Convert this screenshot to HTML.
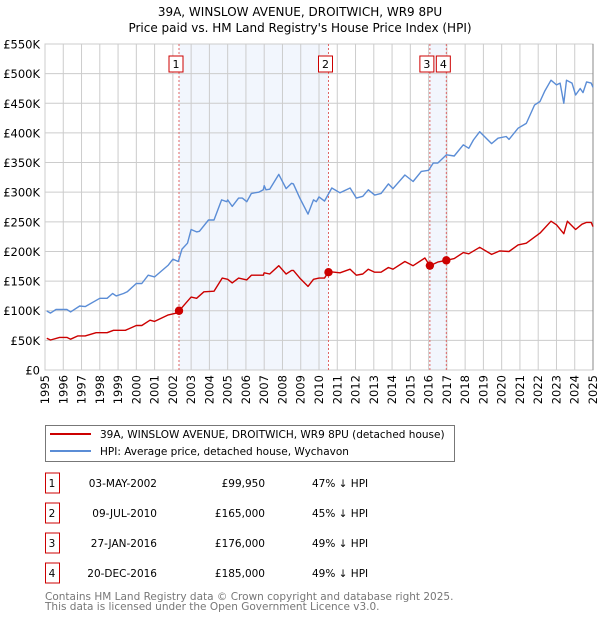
<!DOCTYPE html>
<html><head><meta charset="utf-8"><style>
body{margin:0;background:#fff;font-family:"DejaVu Sans","Liberation Sans",sans-serif;}
svg text{font-family:"DejaVu Sans","Liberation Sans",sans-serif;}
</style></head><body>
<svg id="c" width="600" height="620" xmlns="http://www.w3.org/2000/svg">
<text x="300" y="16" text-anchor="middle" font-size="12">39A, WINSLOW AVENUE, DROITWICH, WR9 8PU</text>
<text x="300" y="32" text-anchor="middle" font-size="12">Price paid vs. HM Land Registry's House Price Index (HPI)</text>
<g id="plot"></g>
<g>
<rect x="45.5" y="425.5" width="409" height="36" fill="#fff" stroke="#777"/>
<line x1="50" y1="434" x2="91" y2="434" stroke="#cc0000" stroke-width="2"/>
<text x="100" y="438" font-size="10.5">39A, WINSLOW AVENUE, DROITWICH, WR9 8PU (detached house)</text>
<line x1="50" y1="451" x2="91" y2="451" stroke="#5b8dd6" stroke-width="2"/>
<text x="100" y="455" font-size="10.5">HPI: Average price, detached house, Wychavon</text>
</g>
<g id="table"></g>
<text x="45" y="600" font-size="10.5" fill="#777">Contains HM Land Registry data © Crown copyright and database right 2025.</text>
<text x="45" y="610" font-size="10.5" fill="#777">This data is licensed under the Open Government Licence v3.0.</text>
</svg>
<script>
const hpiYears=[1995.1,1995.3,1995.6,1996.2,1996.4,1996.9,1997.2,1998.0,1998.4,1998.7,1998.9,1999.3,1999.5,2000.0,2000.3,2000.65,2001.0,2001.75,2002.0,2002.3,2002.5,2002.8,2003.0,2003.3,2003.45,2003.95,2004.25,2004.67,2004.95,2005.0,2005.25,2005.6,2005.8,2006.05,2006.3,2006.7,2006.95,2007.0,2007.1,2007.3,2007.8,2008.2,2008.5,2008.6,2008.95,2009.4,2009.7,2009.85,2010.0,2010.3,2010.7,2011.15,2011.7,2012.05,2012.4,2012.7,2013.05,2013.4,2013.8,2014.05,2014.7,2015.15,2015.6,2016.0,2016.25,2016.5,2016.98,2017.4,2017.9,2018.2,2018.45,2018.8,2019.45,2019.8,2020.25,2020.4,2020.9,2021.35,2021.8,2022.1,2022.35,2022.7,2023.0,2023.2,2023.4,2023.55,2023.85,2024.05,2024.3,2024.45,2024.65,2024.9,2025.0];
const hpiValues=[99.5,96,102,102,98,108,107,121,121,129,125,129,132,146,146,160,157,177,187,183,204,214,237,233,234,253,253,287,284,287,276,290,290,284,298,300,304,311,304,305,330,306,315,314,290,263,287,284,292,285,307,299,307,290,293,304,295,298,314,306,329,318,335,337,349,349,363,361,380,374,388,402,382,391,394,389,408,416,447,453,470,489,481,484,450,489,484,464,475,468,486,484,477];
const priceYears=[1995.1,1995.3,1995.8,1996.2,1996.4,1996.8,1997.2,1997.8,1998.4,1998.75,1999.4,2000.0,2000.3,2000.75,2001.0,2001.75,2002.2,2002.35,2002.6,2003.0,2003.3,2003.7,2004.25,2004.7,2005.0,2005.25,2005.6,2006.05,2006.3,2006.95,2007.0,2007.3,2007.8,2008.2,2008.5,2008.6,2008.95,2009.4,2009.7,2010.0,2010.3,2010.52,2011.15,2011.7,2012.05,2012.4,2012.7,2013.05,2013.4,2013.8,2014.05,2014.7,2015.15,2015.8,2016.07,2016.5,2016.97,2017.4,2017.9,2018.2,2018.8,2019.45,2019.9,2020.4,2020.9,2021.35,2022.1,2022.7,2023.0,2023.4,2023.6,2024.05,2024.4,2024.65,2024.9,2025.0];
const priceValues=[53.4,50.6,55,55,52,57.5,57.5,63,63,67,67,75,75,84,82,93,96,100,109,123,121,132,133,155,153,147,155,152,160,160,164,162,176,162,168,168,155,141,153,155,155,166,164,170,160,162,170,165,165,173,170,183,176,189,176,182,185,188,198,196,207,195,201,200,211,214,231,251,245,230,251,237,246,249,249,242];
const saleLabels=["1","2","3","4"];
const saleYears=[2002.336,2010.52,2016.07,2016.97];
const saleValues=[99.95,165,176,185];
const saleDates=["03-MAY-2002","09-JUL-2010","27-JAN-2016","20-DEC-2016"];
const salePrices=["£99,950","£165,000","£176,000","£185,000"];
const salePct=["47% ↓ HPI","45% ↓ HPI","49% ↓ HPI","49% ↓ HPI"];
const yTicks=[0,50,100,150,200,250,300,350,400,450,500,550];
const yTickLabels=["£0","£50K","£100K","£150K","£200K","£250K","£300K","£350K","£400K","£450K","£500K","£550K"];
const xTicks=[1995,1996,1997,1998,1999,2000,2001,2002,2003,2004,2005,2006,2007,2008,2009,2010,2011,2012,2013,2014,2015,2016,2017,2018,2019,2020,2021,2022,2023,2024,2025];

const X0=45,X1=593,Y0=370,Y1=44;
const xs=y=>X0+(y-1995)/30*(X1-X0);
const ys=v=>Y0-v/550*(Y0-Y1);
const NS="http://www.w3.org/2000/svg";
const plot=document.getElementById('plot');
function mk(tag,attrs,parent){const e=document.createElementNS(NS,tag);for(const k in attrs)e.setAttribute(k,attrs[k]);(parent||plot).appendChild(e);return e;}

for(const [a,b] of [[0,1],[2,3]]){
  const r=mk('rect',{x:xs(saleYears[a]),y:Y1,width:xs(saleYears[b])-xs(saleYears[a]),height:Y0-Y1,fill:'#f2f6fd'});
  
  
}
yTicks.forEach((t,i)=>{
  const l=mk('line',{x1:X0,x2:X1,y1:ys(t),y2:ys(t),stroke:'#cccccc','stroke-width':1});
  
  
  const tx=mk('text',{x:40,y:ys(t)+4.5,'text-anchor':'end','font-size':'11.5'});
  
  
  tx.textContent=yTickLabels[i];
});
xTicks.forEach(t=>{
  const l=mk('line',{x1:xs(t),x2:xs(t),y1:Y1,y2:Y0,stroke:'#cccccc','stroke-width':1});
  
  
  const tx=mk('text',{transform:`translate(${xs(t)+4},375) rotate(-90)`,'text-anchor':'end','font-size':'11.5'});
  
  
  tx.textContent=t;
});
const bd=mk('rect',{x:X0,y:Y1,width:X1-X0,height:Y0-Y1,fill:'none',stroke:'#cccccc'});


const rb=mk('line',{x1:X1,x2:X1,y1:Y1,y2:Y0,stroke:'#888'});


saleYears.forEach((y,i)=>{
  const l=mk('line',{x1:xs(y),x2:xs(y),y1:Y1,y2:Y0,stroke:'#e06666','stroke-dasharray':'2,2','stroke-width':1});
  
  
  const cx=xs(y)-3;
  const b=mk('rect',{x:cx-7,y:56,width:14,height:16,fill:'#fff',stroke:'#cc0000'});
  
  
  const t=mk('text',{x:cx,y:68,'text-anchor':'middle','font-size':'11'});
  
  
  t.textContent=saleLabels[i];
});
function line(xa,va,color,name){
  const d=xa.map((x,i)=>(i?'L':'M')+xs(x).toFixed(1)+','+ys(va[i]).toFixed(1)).join('');
  const p=mk('path',{d:d,fill:'none',stroke:color,'stroke-width':1.4,'stroke-linejoin':'round'});
  
  
}
line(hpiYears,hpiValues,'#5b8dd6','hpi-line');
line(priceYears,priceValues,'#cc0000','price-paid-line');
saleYears.forEach((y,i)=>{
  const c=mk('circle',{cx:xs(y),cy:ys(saleValues[i]),r:4.2,fill:'#cc0000'});
  
  
});
const tb=document.getElementById('table');
saleLabels.forEach((s,i)=>{
  const y=473+i*30;
  const b=mk('rect',{x:45.5,y:y,width:14,height:20,fill:'#fff',stroke:'#cc0000'},tb);
  
  
  const cells=[[52,'middle',s],[157,'end',saleDates[i]],[265,'end',salePrices[i]],[312,'start',salePct[i]]];
  cells.forEach(c=>{
    const t=mk('text',{x:c[0],y:y+14,'text-anchor':c[1],'font-size':'10.5'},tb);
    
    
    t.textContent=c[2];
  });
});
</script>
</body></html>
